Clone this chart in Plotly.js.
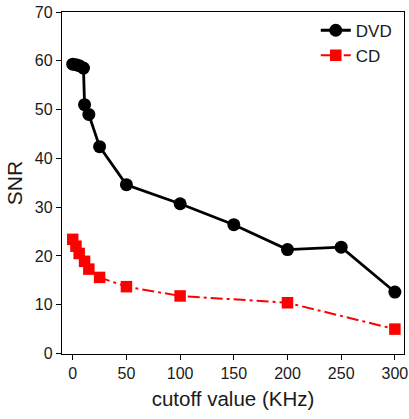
<!DOCTYPE html>
<html>
<head>
<meta charset="utf-8">
<script src="https://cdn.plot.ly/plotly-3.0.1.min.js"></script>
<style>html,body{margin:0;padding:0;background:#fff;}#chart{width:409px;height:419px;}</style>
</head>
<body>
<div id="chart"></div>
<script>
const dvdX = [0, 3, 6, 10, 11, 15, 25, 50, 100, 150, 200, 250, 300];
const dvdY = [59.3, 59.2, 59.0, 58.5, 51.0, 49.0, 42.4, 34.6, 30.7, 26.4, 21.3, 21.8, 12.6];
const cdX = [0, 3, 6, 11, 15, 25, 50, 100, 200, 300];
const cdY = [23.4, 22.0, 20.5, 18.9, 17.3, 15.6, 13.7, 11.8, 10.4, 5.0];
const xTicks = [0, 50, 100, 150, 200, 250, 300];
const yTicks = [0, 10, 20, 30, 40, 50, 60, 70];

const traces = [
  {x: dvdX, y: dvdY, name: 'DVD', mode: 'lines+markers', type: 'scatter',
   line: {color: '#000', width: 2.8},
   marker: {symbol: 'circle', size: 13, color: '#000'}},
  {x: cdX, y: cdY, name: 'CD', mode: 'lines+markers', type: 'scatter',
   line: {color: '#ff0000', width: 2, dash: '12px,4px,3px,4px'},
   marker: {symbol: 'square', size: 11.5, color: '#ff0000'}}
];

const font = {family: 'Liberation Sans, Arial, sans-serif', color: '#1a1a1a'};
const layout = {
  width: 409, height: 419,
  margin: {l: 62, r: 5, t: 12, b: 65},
  paper_bgcolor: '#fff', plot_bgcolor: '#fff',
  showlegend: true,
  legend: {x: 0.742, y: 0.998, xanchor: 'left', yanchor: 'top',
           font: Object.assign({}, font, {size: 17}), bgcolor: 'rgba(0,0,0,0)'},
  xaxis: {range: [-10, 308.5], tickvals: xTicks, ticktext: xTicks.map(String),
          showgrid: false, zeroline: false, showline: true, mirror: true,
          linecolor: '#000', linewidth: 1.2, ticks: 'outside', ticklen: 5, tickcolor: '#000',
          tickfont: Object.assign({}, font, {size: 16}),
          title: {text: 'cutoff value (KHz)', font: Object.assign({}, font, {size: 20.5}), standoff: 10}},
  yaxis: {range: [-0.1, 70], tickvals: yTicks, ticktext: yTicks.map(String),
          showgrid: false, zeroline: false, showline: true, mirror: true,
          linecolor: '#000', linewidth: 1.2, ticks: 'outside', ticklen: 5, tickcolor: '#000',
          tickfont: Object.assign({}, font, {size: 16}),
          title: {text: 'SNR', font: Object.assign({}, font, {size: 21}), standoff: 6}}
};
Plotly.newPlot('chart', traces, layout, {displayModeBar: false, staticPlot: true});
</script>
</body>
</html>
